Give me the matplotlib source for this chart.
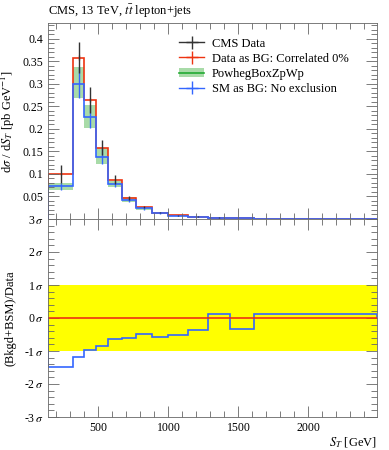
import numpy as np
import matplotlib
matplotlib.use("Agg")
from matplotlib import pyplot as plt
from matplotlib.ticker import MultipleLocator
from matplotlib.lines import Line2D
from matplotlib.patches import Patch

plt.rcParams['font.family'] = ['Liberation Serif', 'DejaVu Serif']
plt.rcParams['mathtext.fontset'] = 'stix'

# S_T binning [GeV]
edges = [140, 320, 400, 480, 570, 670, 770, 880, 1000, 1140, 1280, 1440, 1610, 2490]

# CMS data
data = [0.100, 0.358, 0.264, 0.158, 0.087, 0.046, 0.026, 0.014, 0.008, 0.005, 0.003, 0.0015, 0.0005]
data_err = [0.020, 0.035, 0.028, 0.017, 0.010, 0.004, 0.002, 0.0012, 0.0008, 0.0006, 0.0004, 0.0003, 0.0001]

# PowhegBoxZpWp (band)
mc_lo = [0.065, 0.268, 0.202, 0.122, 0.071, 0.038, 0.021, 0.011, 0.006, 0.0038, 0.0024, 0.0013, 0.0004]
mc_hi = [0.081, 0.338, 0.254, 0.157, 0.085, 0.048, 0.027, 0.015, 0.008, 0.0052, 0.0034, 0.0021, 0.0008]

# SM as BG: No exclusion
sm = [0.073, 0.300, 0.227, 0.138, 0.078, 0.043, 0.024, 0.013, 0.007, 0.0045, 0.0029, 0.0017, 0.0006]

# ratio panel (in sigma)
pull_sm = [-1.48, -1.17, -0.98, -0.85, -0.64, -0.61, -0.48, -0.58, -0.52, -0.36, 0.11, -0.33, 0.13]

red = '#ee3311'
blue = '#3366ff'
green_band = '#a8dba8'
green = '#22aa33'

edges = np.array(edges)
centers = 0.5 * (edges[1:] + edges[:-1])

fig = plt.figure(figsize=(3.89, 4.5), dpi=100)
ax1 = fig.add_axes([48/389, 1-219/450, 329/389, 196/450])
ax2 = fig.add_axes([48/389, 1-417/450, 329/389, 198/450], sharex=ax1)

# upper panel
ax1.stairs(mc_hi, edges, baseline=mc_lo, fill=True, color=green_band, lw=0)
ax1.stairs(data, edges, color=red, lw=1.2)
ax1.errorbar(centers, data, yerr=np.array(data_err)*0.15, fmt='none', ecolor=red, lw=1)
ax1.stairs(sm, edges, color=blue, lw=1.2)
ax1.errorbar(centers, sm, yerr=[np.array(sm)-np.array(mc_lo), np.array(mc_hi)-np.array(sm)],
             fmt='none', ecolor=blue, lw=1)
ax1.errorbar(centers, data, yerr=data_err, fmt='none', ecolor='#333333', lw=1)

ax1.set_ylim(0, 0.435)
ax1.set_xlim(edges[0], edges[-1])
ax1.yaxis.set_minor_locator(MultipleLocator(0.01))
ax1.set_yticks([0.05, 0.1, 0.15, 0.2, 0.25, 0.3, 0.35, 0.4])
ax1.set_yticklabels(['0.05', '0.1', '0.15', '0.2', '0.25', '0.3', '0.35', '0.4'])
ax1.set_ylabel(r'd$\sigma$ / d$S_T$ [pb GeV$^{-1}$]', fontsize=9)
ax1.tick_params(labelbottom=False)
ax1.set_title(r'CMS, 13 TeV, $t\bar{t}$ lepton+jets', loc='left', fontsize=9, pad=6)

h_data = ax1.errorbar([], [], yerr=[], xerr=[], color='#333333', lw=1)
h_red = ax1.errorbar([], [], yerr=[], xerr=[], color=red, lw=1)
h_green = (Patch(color=green_band, lw=0), Line2D([], [], color=green, lw=1.2))
h_blue = ax1.errorbar([], [], yerr=[], xerr=[], color=blue, lw=1)
ax1.legend([h_data, h_red, h_green, h_blue],
           ['CMS Data', 'Data as BG: Correlated 0%', 'PowhegBoxZpWp', 'SM as BG: No exclusion'],
           loc='upper right', bbox_to_anchor=(0.94, 0.97), frameon=False, fontsize=9,
           handlelength=2.0, handletextpad=0.6, labelspacing=0.25, borderaxespad=0.3)

# lower panel
ax2.axhspan(-1, 1, color='#ffff00', lw=0)
ax2.axhline(0, color=red, lw=1.2)
ax2.stairs(pull_sm, edges, color=blue, lw=1.2)
ax2.set_ylim(-3, 3)
ax2.set_yticks([-3, -2, -1, 0, 1, 2, 3])
ax2.set_yticklabels([r'-3$\,\sigma$', r'-2$\,\sigma$', r'-1$\,\sigma$', r'0$\,\sigma$',
                     r'1$\,\sigma$', r'2$\,\sigma$', r'3$\,\sigma$'])
ax2.yaxis.set_minor_locator(MultipleLocator(0.2))
ax2.xaxis.set_major_locator(MultipleLocator(500))
ax2.xaxis.set_minor_locator(MultipleLocator(100))
ax2.set_ylabel('(Bkgd+BSM)/Data', fontsize=9)
ax2.set_xlabel(r'$S_T$ [GeV]', fontsize=9, loc='right', labelpad=1)

for ax in (ax1, ax2):
    ax.tick_params(which='both', direction='in', top=True, right=True, labelsize=8.5)
    ax.tick_params(which='major', length=8, width=0.6, color='#666666')
    ax.tick_params(which='minor', length=4, width=0.6, color='#666666')
    for s in ax.spines.values():
        s.set_linewidth(0.6)
        s.set_color('#666666')

ax1.yaxis.set_label_coords(-0.095, 0.5)
ax2.yaxis.set_label_coords(-0.095, 0.5)

fig.savefig('out.png', dpi=100)
